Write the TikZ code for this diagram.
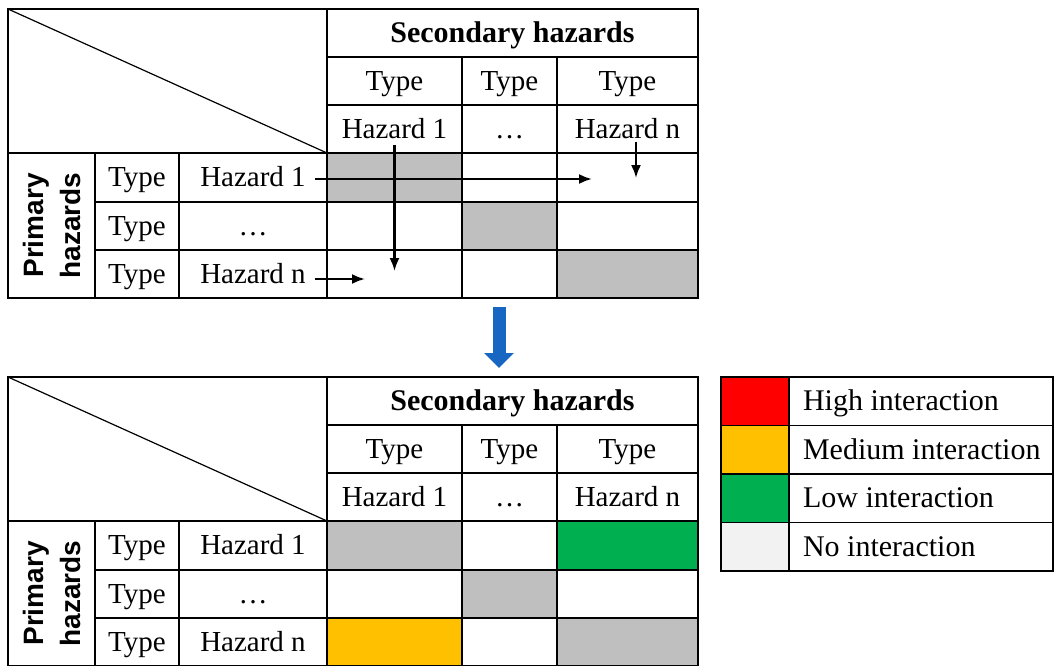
\documentclass[tikz,border=0pt]{standalone}
\usepackage{fontspec}
\setmainfont{Liberation Serif}
\newfontfamily\primfont{Liberation Sans}
\usetikzlibrary{arrows.meta}
\definecolor{cellgrey}{HTML}{BFBFBF}
\definecolor{highred}{HTML}{FF0000}
\definecolor{medorange}{HTML}{FFC000}
\definecolor{lowgreen}{HTML}{00B050}
\definecolor{nogrey}{HTML}{F2F2F2}
\definecolor{flowblue}{HTML}{1767C2}

\begin{document}
\begin{tikzpicture}[x=1pt,y=-1pt,
  grid line/.style={line width=1.6pt},
  cell text/.style={font=\fontsize{29}{31}\selectfont,text height=18.5pt,text depth=0pt},
  head text/.style={cell text,font=\fontsize{30}{32}\selectfont\bfseries},
  key text/.style={cell text,font=\fontsize{30}{32}\selectfont,anchor=west},
  prim text/.style={font=\fontsize{28}{37}\selectfont\primfont\bfseries,align=center,rotate=90},
  link arrow/.style={line width=2.2pt,-{Latex[length=13pt,width=10pt]}},
  flow arrow/.style={flowblue,line width=13pt,-{Triangle[length=15pt,width=29pt]}}]

\useasboundingbox (0,0) rectangle (1054,666);

% shaded cells, top table
\fill[cellgrey] (327,153) rectangle (462,202);
\fill[cellgrey] (462,202) rectangle (557,250);
\fill[cellgrey] (557,250) rectangle (698,298);
% shaded cells, bottom table
\fill[cellgrey] (327,521) rectangle (462,570);
\fill[lowgreen] (557,521) rectangle (698,570);
\fill[cellgrey] (462,570) rectangle (557,618);
\fill[medorange] (327,618) rectangle (462,666);
\fill[cellgrey] (557,618) rectangle (698,666);

\foreach \tb/\oy in {top/9, bot/377} {
  \draw[grid line] (8,\oy) rectangle (698,\oy+289);
  \draw[grid line] (327,\oy+48) -- (698,\oy+48);
  \draw[grid line] (327,\oy+96) -- (698,\oy+96);
  \draw[grid line] (8,\oy+144) -- (698,\oy+144);
  \draw[grid line] (95,\oy+193) -- (698,\oy+193);
  \draw[grid line] (95,\oy+241) -- (698,\oy+241);
  \draw[grid line] (327,\oy) -- (327,\oy+289);
  \draw[grid line] (462,\oy+48) -- (462,\oy+289);
  \draw[grid line] (557,\oy+48) -- (557,\oy+289);
  \draw[grid line] (95,\oy+144) -- (95,\oy+289);
  \draw[grid line] (179,\oy+144) -- (179,\oy+289);
  \draw[line width=1.2pt] (8,\oy) -- (327,\oy+144);

  \node[head text] (\tb-sec) at (512.5,\oy+24) {Secondary hazards};
  \node[cell text] (\tb-st1) at (394.5,\oy+72) {Type};
  \node[cell text] (\tb-st2) at (509.5,\oy+72) {Type};
  \node[cell text] (\tb-st3) at (627.5,\oy+72) {Type};
  \node[cell text] (\tb-sh1) at (394.5,\oy+120) {Hazard 1};
  \node[cell text] (\tb-sh2) at (509.5,\oy+120) {…};
  \node[cell text] (\tb-shn) at (627.5,\oy+120) {Hazard n};
  \node[cell text] (\tb-pt1) at (137,\oy+168.5) {Type};
  \node[cell text] (\tb-pt2) at (137,\oy+217) {Type};
  \node[cell text] (\tb-pt3) at (137,\oy+265) {Type};
  \node[cell text] (\tb-ph1) at (253,\oy+168.5) {Hazard 1};
  \node[cell text] (\tb-ph2) at (253,\oy+217) {…};
  \node[cell text] (\tb-phn) at (253,\oy+265) {Hazard n};
  \node[prim text] (\tb-prim) at (51.5,\oy+216.5) {Primary\\hazards};
}

% reading the top matrix
\coordinate (top-hit) at (592,179);
\coordinate (top-down) at (394.5,271);
\coordinate (top-nend) at (636,178);
\coordinate (top-nhit) at (365,279);
\draw[link arrow] ([xshift=6pt]top-ph1.east |- top-hit) -- (top-hit);
\draw[link arrow] ([yshift=-3pt]top-sh1.south) -- (top-down);
\draw[link arrow] (top-shn.south -| top-nend) -- (top-nend);
\draw[link arrow] ([xshift=6pt]top-phn.east |- top-nhit) -- (top-nhit);

\coordinate (flow-top) at (499,307);
\coordinate (flow-bot) at (499,368);
\draw[flow arrow] (flow-top) -- (flow-bot);

% legend
\fill[highred] (721,377) rectangle (789,425.5);
\fill[medorange] (721,425.5) rectangle (789,474);
\fill[lowgreen] (721,474) rectangle (789,522.5);
\fill[nogrey] (721,522.5) rectangle (789,571);
\draw[grid line] (721,377) rectangle (1053,571);
\draw[grid line] (721,425.5) -- (1053,425.5);
\draw[grid line] (721,474) -- (1053,474);
\draw[grid line] (721,522.5) -- (1053,522.5);
\draw[grid line] (789,377) -- (789,571);
\node[key text] (lg-high) at (799.5,401.25) {High interaction};
\node[key text] (lg-med) at (799.5,449.75) {Medium interaction};
\node[key text] (lg-low) at (799.5,498.25) {Low interaction};
\node[key text] (lg-none) at (799.5,546.75) {No interaction};
\end{tikzpicture}
\end{document}
